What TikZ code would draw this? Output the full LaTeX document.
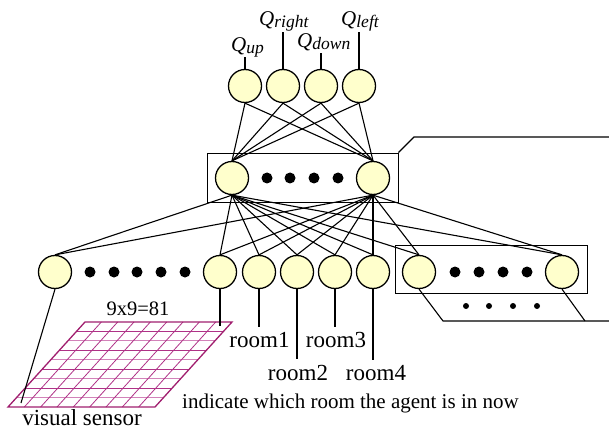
\documentclass[tikz,border=0pt]{standalone}
\usepackage{fontspec}
\setmainfont{Liberation Serif}
\definecolor{nfill}{RGB}{255,255,204}
\definecolor{gridout}{RGB}{160,30,110}
\definecolor{gridin}{RGB}{175,50,135}
\definecolor{gridlt}{RGB}{210,130,185}
\tikzset{
  neuron/.style={circle, draw, line width=1.3pt, fill=nfill, minimum size=33pt, inner sep=0pt},
  bigdot/.style={circle, fill=black, minimum size=11pt, inner sep=0pt},
  smalldot/.style={circle, fill=black, minimum size=6pt, inner sep=0pt},
  conn/.style={line width=1.1pt},
  layerbox/.style={draw, line width=0.9pt, rectangle, inner sep=0pt},
  bigtxt/.style={font=\fontsize{23}{23}\selectfont, anchor=base, inner sep=0pt},
  midtxt/.style={font=\fontsize{21}{21}\selectfont, anchor=base, inner sep=0pt},
  qlbl/.style={font=\itshape\fontsize{21}{21}\selectfont, anchor=base west, inner sep=0pt}
}
\newcommand{\qsub}[1]{\raisebox{-1.5pt}{\fontsize{17.5}{17.5}\selectfont #1}}
\begin{document}
\begin{tikzpicture}[x=1pt,y=-1pt]
\useasboundingbox (0,0) rectangle (609,430);

% layer boxes
\node[layerbox, minimum width=191pt, minimum height=49pt] (hbox) at (302.5,177.5) {};
\node[layerbox, minimum width=192pt, minimum height=48pt] (ibox) at (491,269) {};

% output neurons
\node[neuron] (o1) at (245,86) {};
\node[neuron] (o2) at (283,86) {};
\node[neuron] (o3) at (321,86) {};
\node[neuron] (o4) at (359,86) {};
% hidden neurons
\node[neuron] (h1) at (232,178) {};
\node[neuron] (h2) at (373,178) {};
\foreach \x [count=\k] in {267,290,314,338} \node[bigdot] (hd\k) at (\x,178) {};
% input neurons
\node[neuron] (i1) at (55,272) {};
\node[neuron] (i2) at (220,272) {};
\foreach \x [count=\k] in {90,114,137,161,185} \node[bigdot] (id\k) at (\x,272) {};
\node[neuron] (r1) at (259,272) {};
\node[neuron] (r2) at (297,272) {};
\node[neuron] (r3) at (335,272) {};
\node[neuron] (r4) at (373,272) {};
\node[neuron] (j1) at (419,272) {};
\node[neuron] (j2) at (562,272) {};
\foreach \x [count=\k] in {455,479,503,527} \node[bigdot] (jd\k) at (\x,272) {};
\foreach \x [count=\k] in {466,489,513,537} \node[smalldot] (sd\k) at (\x,306) {};

% connections
\foreach \o in {o1,o2,o3,o4}
  \foreach \h in {h1,h2}
    \draw[conn] (\o.south) -- (\h.north);
\foreach \h in {h1,h2}
  \foreach \i in {i1,i2,r1,r2,r3,r4,j1,j2}
    \draw[conn] (\h.south) -- (\i.north);

% Q labels
\node[qlbl] (qup) at (231,52) {Q\qsub{up}};
\node[qlbl] (qright) at (259,26) {Q\qsub{right}};
\node[qlbl] (qdown) at (297,48) {Q\qsub{down}};
\node[qlbl] (qleft) at (341,26) {Q\qsub{left}};
\coordinate (qa) at (245,57);
\coordinate (qb) at (283,32);
\coordinate (qc) at (321,53);
\coordinate (qd) at (359,32);
\draw[conn] (o1.north) -- (qa);
\draw[conn] (o2.north) -- (qb);
\draw[conn] (o3.north) -- (qc);
\draw[conn] (o4.north) -- (qd);

% callouts
\coordinate (ca) at (414,137);
\coordinate (cb) at (609,137);
\draw[conn] (hbox.north east) -- (ca) -- (cb);
\coordinate (c1) at (443,321);
\coordinate (c2) at (585,321);
\coordinate (c3) at (609,321);
\draw[conn] (j1.south) -- (c1) -- (c3);
\draw[conn] (j2.south) -- (c2);

% room lines and labels
\coordinate (r1e) at (259,327);
\coordinate (r2e) at (297,359);
\coordinate (r3e) at (335,327);
\coordinate (r4e) at (373,360);
\draw[conn] (r1.south) -- (r1e);
\draw[conn] (r2.south) -- (r2e);
\draw[conn] (r3.south) -- (r3e);
\draw[conn] (r4.south) -- (r4e);
\node[bigtxt] (l1) at (259.5,347) {room1};
\node[bigtxt] (l3) at (336,347) {room3};
\node[bigtxt] (l2) at (298,380) {room2};
\node[bigtxt] (l4) at (376,380) {room4};
\node[midtxt, anchor=base west] (ind) at (182,408) {indicate which room the agent is in now};

% visual grid
\foreach \k in {1,...,8} {
  \pgfmathsetmacro{\yy}{322+85*\k/9}
  \pgfmathsetmacro{\xa}{85-77*\k/9}
  \pgfmathsetmacro{\xb}{232-77*\k/9}
  \pgfmathparse{int(mod(\k,2))}
  \ifnum\pgfmathresult=0
    \draw[gridlt, line width=1pt] (\xa,\yy) -- (\xb,\yy);
  \else
    \draw[gridin, line width=0.8pt] (\xa,\yy) -- (\xb,\yy);
  \fi
}
\foreach \k in {1,...,8} {
  \pgfmathsetmacro{\xa}{85+147*\k/9}
  \pgfmathsetmacro{\xb}{8+147*\k/9}
  \draw[gridin, line width=0.8pt] (\xa,322) -- (\xb,407);
}
\draw[gridout, line width=1.3pt] (85,322) -- (232,322) -- (155,407) -- (8,407) -- cycle;
\node[midtxt, font=\fontsize{20.5}{20.5}\selectfont] (gl) at (138,315) {9x9=81};
\node[bigtxt] (vs) at (82,425) {visual sensor};
\coordinate (ve) at (21,403);
\coordinate (ie) at (220,326);
\draw[conn] (i1.south) -- (ve);
\draw[conn] (i2.south) -- (ie);
\end{tikzpicture}
\end{document}
